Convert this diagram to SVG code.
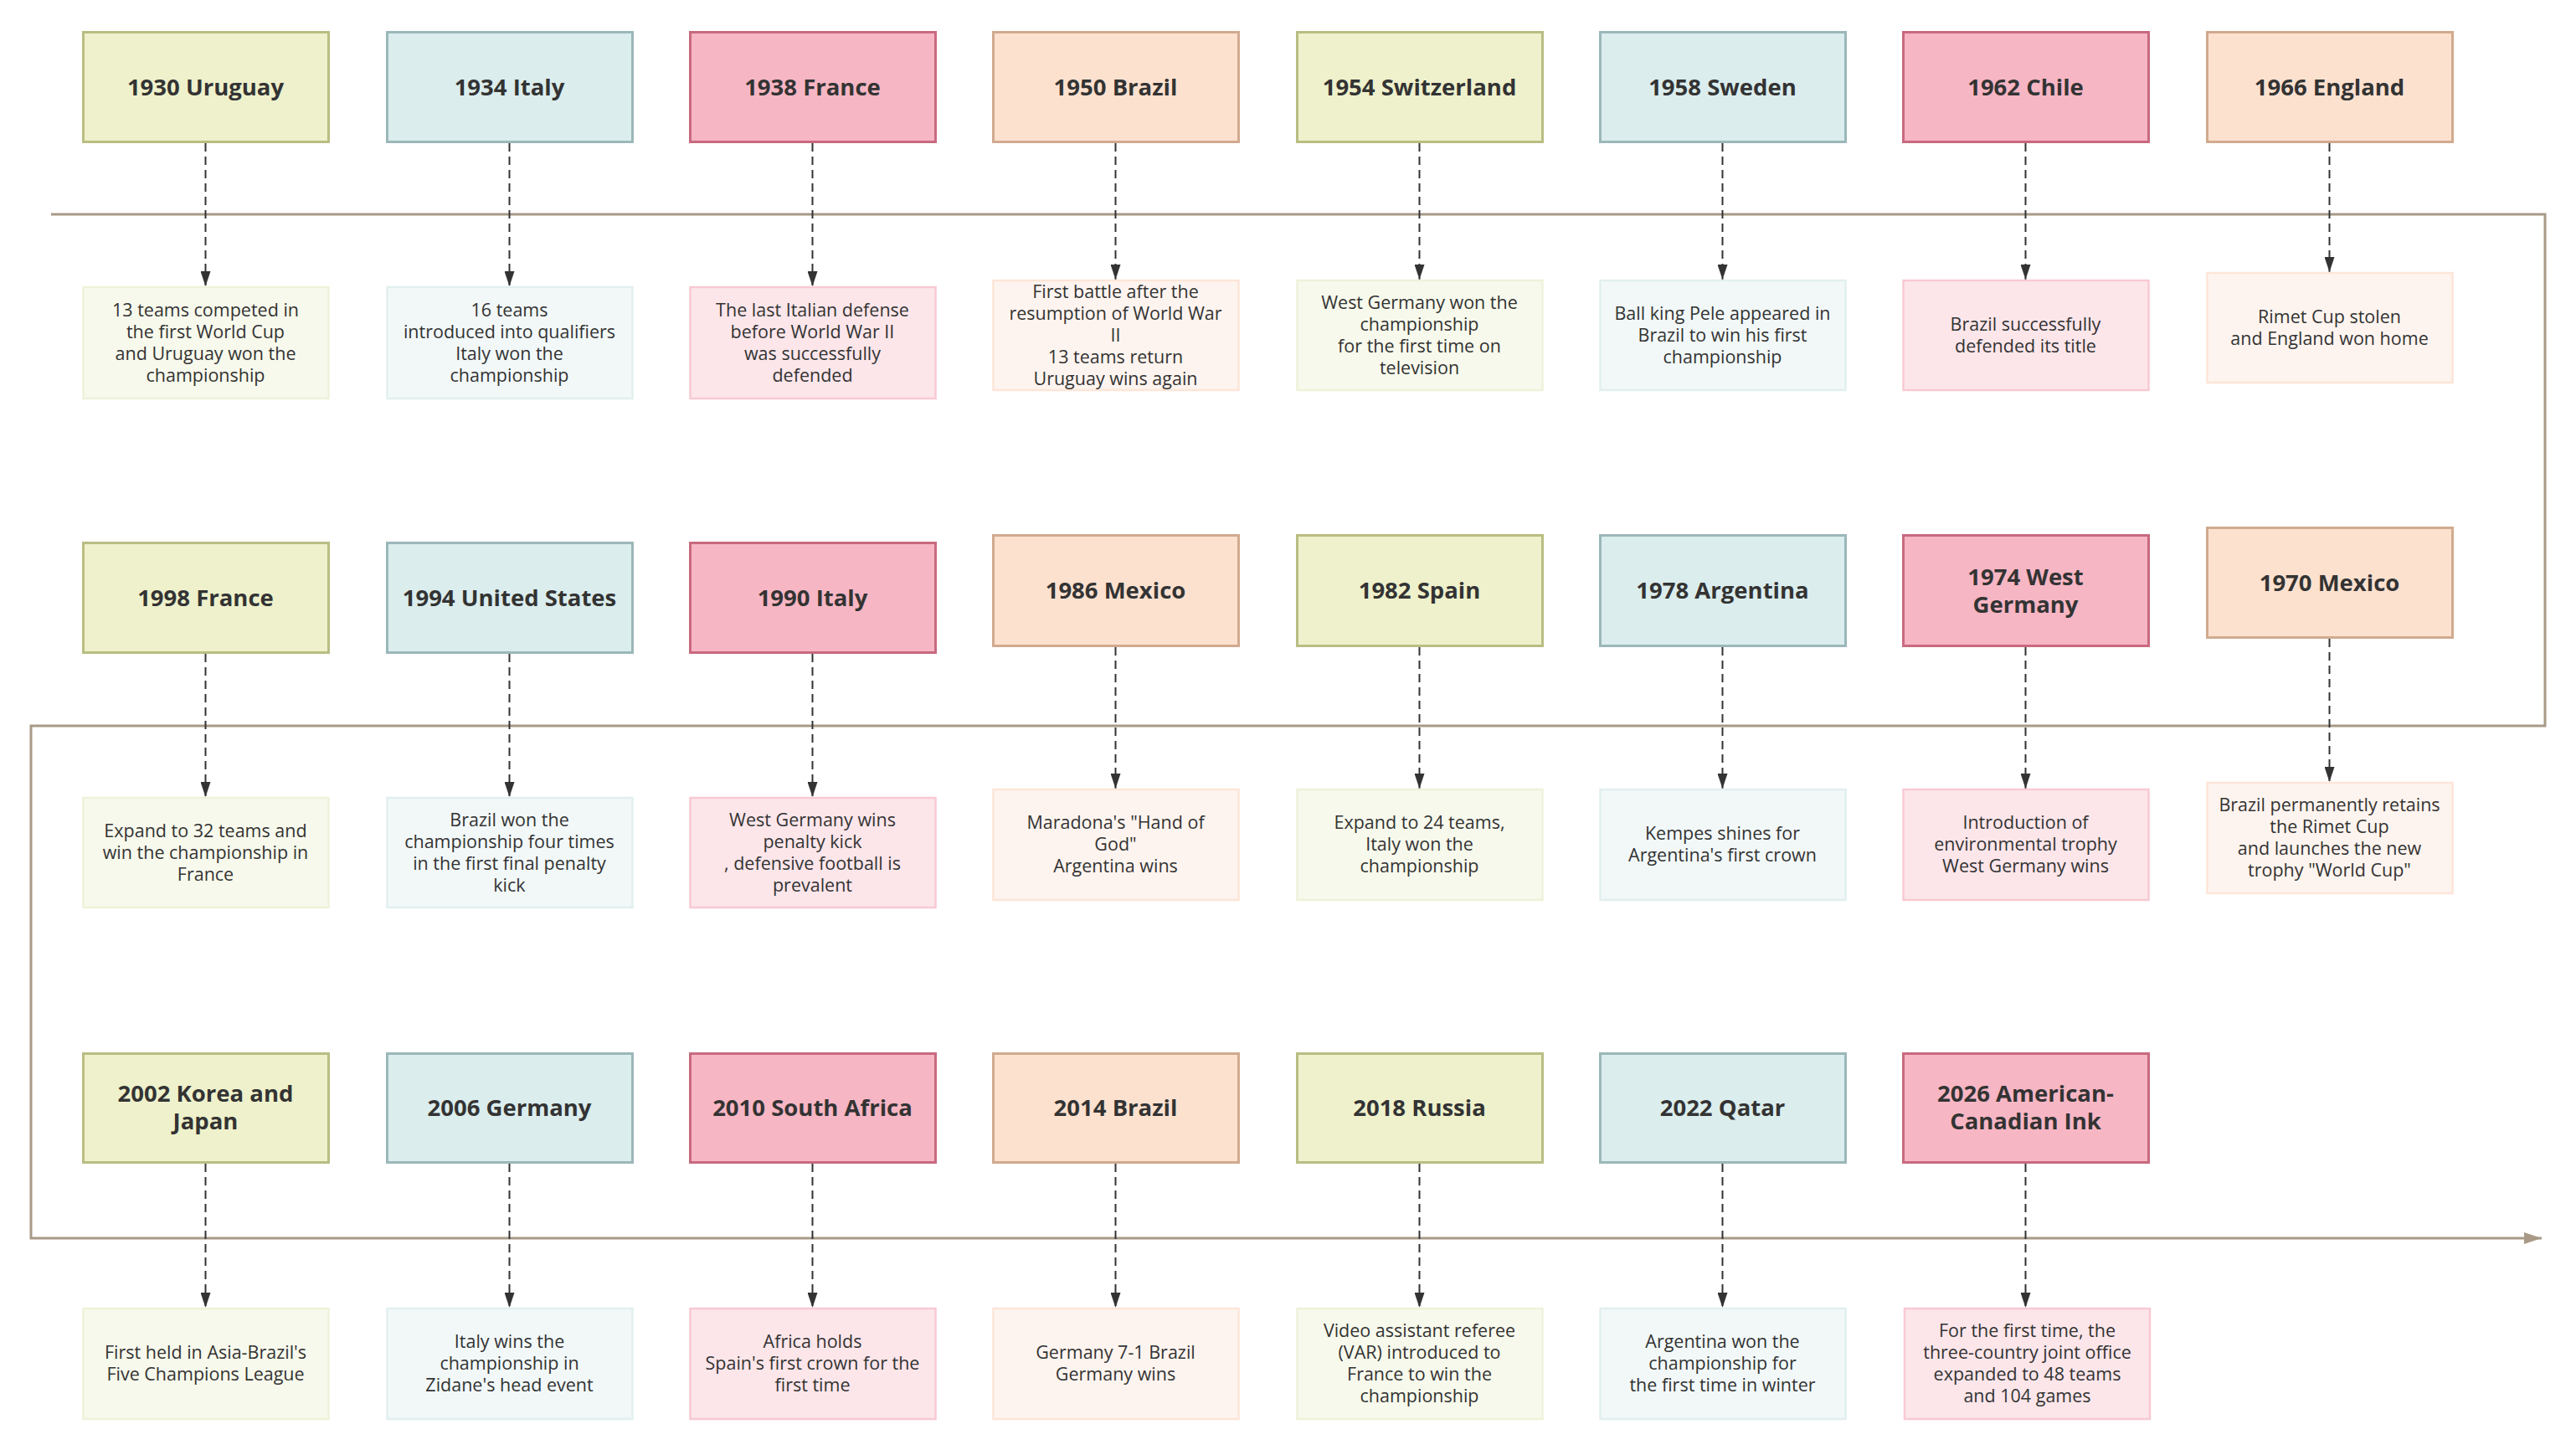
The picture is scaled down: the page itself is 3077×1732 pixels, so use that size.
<svg xmlns="http://www.w3.org/2000/svg" width="3077" height="1732" viewBox="0 0 3077 1732">
<style>
  .tb { stroke-width: 3; }
  .db { stroke-width: 2.5; }
  .g { fill: #eef1cb; stroke: #b9bd82; }
  .b { fill: #dbeded; stroke: #9bb7b9; }
  .p { fill: #f7b6c4; stroke: #c8697f; }
  .o { fill: #fde1cf; stroke: #d1aa8f; }
  .dg { fill: #f7f9ec; stroke: #eff2da; }
  .dbl { fill: #f2f8f8; stroke: #e2efef; }
  .dp { fill: #fce6ea; stroke: #f8c9d3; }
  .do { fill: #fef4ef; stroke: #fde5d8; }
  .tt { font-family: "Open Sans", "Noto Sans", "Liberation Sans", sans-serif; font-weight: bold; font-size: 27.5px; fill: #333333; text-anchor: middle; }
  .dt { font-family: "Open Sans", "Noto Sans", "Liberation Sans", sans-serif; font-size: 21.5px; fill: #333333; text-anchor: middle; }
  .axis { fill: none; stroke: #a89a86; stroke-width: 3; }
  .dash { fill: none; stroke: #333333; stroke-width: 2; stroke-dasharray: 10 6; }
</style>
<defs>
  <marker id="ah" markerUnits="userSpaceOnUse" markerWidth="12" markerHeight="18" refX="6" refY="18" orient="0" viewBox="0 0 12 18">
    <path d="M0,0 L12,0 L6,18 Z" fill="#333333"/>
  </marker>
  <marker id="axh" markerUnits="userSpaceOnUse" markerWidth="22" markerHeight="14" refX="21" refY="7" orient="auto" viewBox="0 0 22 14">
    <path d="M0,0 L21,7 L0,14 Z" fill="#a89a86"/>
  </marker>
</defs>
<rect width="3077" height="1732" fill="#ffffff"/>

<g id="connectors">
  <path class="axis" d="M61,256 H3040 V867 H37 V1479 H3036" marker-end="url(#axh)"/>
  <path class="dash" d="M245.5,171 V342" marker-end="url(#ah)"/>
  <path class="dash" d="M608.5,171 V342" marker-end="url(#ah)"/>
  <path class="dash" d="M970.5,171 V342" marker-end="url(#ah)"/>
  <path class="dash" d="M1332.5,171 V334" marker-end="url(#ah)"/>
  <path class="dash" d="M1695.5,171 V334" marker-end="url(#ah)"/>
  <path class="dash" d="M2057.5,171 V334" marker-end="url(#ah)"/>
  <path class="dash" d="M2419.5,171 V334" marker-end="url(#ah)"/>
  <path class="dash" d="M2782.5,171 V325" marker-end="url(#ah)"/>
  <path class="dash" d="M245.5,781 V952" marker-end="url(#ah)"/>
  <path class="dash" d="M608.5,781 V952" marker-end="url(#ah)"/>
  <path class="dash" d="M970.5,781 V952" marker-end="url(#ah)"/>
  <path class="dash" d="M1332.5,773 V942" marker-end="url(#ah)"/>
  <path class="dash" d="M1695.5,773 V942" marker-end="url(#ah)"/>
  <path class="dash" d="M2057.5,773 V942" marker-end="url(#ah)"/>
  <path class="dash" d="M2419.5,773 V942" marker-end="url(#ah)"/>
  <path class="dash" d="M2782.5,763 V934" marker-end="url(#ah)"/>
  <path class="dash" d="M245.5,1390 V1562" marker-end="url(#ah)"/>
  <path class="dash" d="M608.5,1390 V1562" marker-end="url(#ah)"/>
  <path class="dash" d="M970.5,1390 V1562" marker-end="url(#ah)"/>
  <path class="dash" d="M1332.5,1390 V1562" marker-end="url(#ah)"/>
  <path class="dash" d="M1695.5,1390 V1562" marker-end="url(#ah)"/>
  <path class="dash" d="M2057.5,1390 V1562" marker-end="url(#ah)"/>
  <path class="dash" d="M2419.5,1390 V1562" marker-end="url(#ah)"/>
</g>

<!-- Row 1 -->
<g id="n1930">
  <rect class="tb g" x="99.5" y="38.5" width="293" height="131"/>
  <text class="tt" x="245.5" y="113.5">1930 Uruguay</text>
</g>
<g id="d1930">
  <rect class="db dg" x="99.5" y="343" width="293" height="133"/>
  <text class="dt" x="245.5" y="377.5"><tspan x="245.5">13 teams competed in</tspan><tspan x="245.5" dy="26">the first World Cup</tspan><tspan x="245.5" dy="26">and Uruguay won the</tspan><tspan x="245.5" dy="26">championship</tspan></text>
</g>
<g id="n1934">
  <rect class="tb b" x="462.5" y="38.5" width="293" height="131"/>
  <text class="tt" x="608.5" y="113.5">1934 Italy</text>
</g>
<g id="d1934">
  <rect class="db dbl" x="462.5" y="343" width="293" height="133"/>
  <text class="dt" x="608.5" y="377.5"><tspan x="608.5">16 teams</tspan><tspan x="608.5" dy="26">introduced into qualifiers</tspan><tspan x="608.5" dy="26">Italy won the</tspan><tspan x="608.5" dy="26">championship</tspan></text>
</g>
<g id="n1938">
  <rect class="tb p" x="824.5" y="38.5" width="293" height="131"/>
  <text class="tt" x="970.5" y="113.5">1938 France</text>
</g>
<g id="d1938">
  <rect class="db dp" x="824.5" y="343" width="293" height="133"/>
  <text class="dt" x="970.5" y="377.5"><tspan x="970.5">The last Italian defense</tspan><tspan x="970.5" dy="26">before World War II</tspan><tspan x="970.5" dy="26">was successfully</tspan><tspan x="970.5" dy="26">defended</tspan></text>
</g>
<g id="n1950">
  <rect class="tb o" x="1186.5" y="38.5" width="293" height="131"/>
  <text class="tt" x="1332.5" y="113.5">1950 Brazil</text>
</g>
<g id="d1950">
  <rect class="db do" x="1186.5" y="335" width="293" height="131"/>
  <text class="dt" x="1332.5" y="355.5"><tspan x="1332.5">First battle after the</tspan><tspan x="1332.5" dy="26">resumption of World War</tspan><tspan x="1332.5" dy="26">II</tspan><tspan x="1332.5" dy="26">13 teams return</tspan><tspan x="1332.5" dy="26">Uruguay wins again</tspan></text>
</g>
<g id="n1954">
  <rect class="tb g" x="1549.5" y="38.5" width="293" height="131"/>
  <text class="tt" x="1695.5" y="113.5">1954 Switzerland</text>
</g>
<g id="d1954">
  <rect class="db dg" x="1549.5" y="335" width="293" height="131"/>
  <text class="dt" x="1695.5" y="368.5"><tspan x="1695.5">West Germany won the</tspan><tspan x="1695.5" dy="26">championship</tspan><tspan x="1695.5" dy="26">for the first time on</tspan><tspan x="1695.5" dy="26">television</tspan></text>
</g>
<g id="n1958">
  <rect class="tb b" x="1911.5" y="38.5" width="293" height="131"/>
  <text class="tt" x="2057.5" y="113.5">1958 Sweden</text>
</g>
<g id="d1958">
  <rect class="db dbl" x="1911.5" y="335" width="293" height="131"/>
  <text class="dt" x="2057.5" y="381.5"><tspan x="2057.5">Ball king Pele appeared in</tspan><tspan x="2057.5" dy="26">Brazil to win his first</tspan><tspan x="2057.5" dy="26">championship</tspan></text>
</g>
<g id="n1962">
  <rect class="tb p" x="2273.5" y="38.5" width="293" height="131"/>
  <text class="tt" x="2419.5" y="113.5">1962 Chile</text>
</g>
<g id="d1962">
  <rect class="db dp" x="2273.5" y="335" width="293" height="131"/>
  <text class="dt" x="2419.5" y="394.5"><tspan x="2419.5">Brazil successfully</tspan><tspan x="2419.5" dy="26">defended its title</tspan></text>
</g>
<g id="n1966">
  <rect class="tb o" x="2636.5" y="38.5" width="293" height="131"/>
  <text class="tt" x="2782.5" y="113.5">1966 England</text>
</g>
<g id="d1966">
  <rect class="db do" x="2636.5" y="326" width="293" height="131"/>
  <text class="dt" x="2782.5" y="385.5"><tspan x="2782.5">Rimet Cup stolen</tspan><tspan x="2782.5" dy="26">and England won home</tspan></text>
</g>

<!-- Row 2 -->
<g id="n1998">
  <rect class="tb g" x="99.5" y="648.5" width="293" height="131"/>
  <text class="tt" x="245.5" y="723.5">1998 France</text>
</g>
<g id="d1998">
  <rect class="db dg" x="99.5" y="953" width="293" height="131"/>
  <text class="dt" x="245.5" y="999.5"><tspan x="245.5">Expand to 32 teams and</tspan><tspan x="245.5" dy="26">win the championship in</tspan><tspan x="245.5" dy="26">France</tspan></text>
</g>
<g id="n1994">
  <rect class="tb b" x="462.5" y="648.5" width="293" height="131"/>
  <text class="tt" x="608.5" y="723.5">1994 United States</text>
</g>
<g id="d1994">
  <rect class="db dbl" x="462.5" y="953" width="293" height="131"/>
  <text class="dt" x="608.5" y="986.5"><tspan x="608.5">Brazil won the</tspan><tspan x="608.5" dy="26">championship four times</tspan><tspan x="608.5" dy="26">in the first final penalty</tspan><tspan x="608.5" dy="26">kick</tspan></text>
</g>
<g id="n1990">
  <rect class="tb p" x="824.5" y="648.5" width="293" height="131"/>
  <text class="tt" x="970.5" y="723.5">1990 Italy</text>
</g>
<g id="d1990">
  <rect class="db dp" x="824.5" y="953" width="293" height="131"/>
  <text class="dt" x="970.5" y="986.5"><tspan x="970.5">West Germany wins</tspan><tspan x="970.5" dy="26">penalty kick</tspan><tspan x="970.5" dy="26">, defensive football is</tspan><tspan x="970.5" dy="26">prevalent</tspan></text>
</g>
<g id="n1986">
  <rect class="tb o" x="1186.5" y="639.5" width="293" height="132"/>
  <text class="tt" x="1332.5" y="715">1986 Mexico</text>
</g>
<g id="d1986">
  <rect class="db do" x="1186.5" y="943" width="293" height="132"/>
  <text class="dt" x="1332.5" y="990"><tspan x="1332.5">Maradona's "Hand of</tspan><tspan x="1332.5" dy="26">God"</tspan><tspan x="1332.5" dy="26">Argentina wins</tspan></text>
</g>
<g id="n1982">
  <rect class="tb g" x="1549.5" y="639.5" width="293" height="132"/>
  <text class="tt" x="1695.5" y="715">1982 Spain</text>
</g>
<g id="d1982">
  <rect class="db dg" x="1549.5" y="943" width="293" height="132"/>
  <text class="dt" x="1695.5" y="990"><tspan x="1695.5">Expand to 24 teams,</tspan><tspan x="1695.5" dy="26">Italy won the</tspan><tspan x="1695.5" dy="26">championship</tspan></text>
</g>
<g id="n1978">
  <rect class="tb b" x="1911.5" y="639.5" width="293" height="132"/>
  <text class="tt" x="2057.5" y="715">1978 Argentina</text>
</g>
<g id="d1978">
  <rect class="db dbl" x="1911.5" y="943" width="293" height="132"/>
  <text class="dt" x="2057.5" y="1003"><tspan x="2057.5">Kempes shines for</tspan><tspan x="2057.5" dy="26">Argentina's first crown</tspan></text>
</g>
<g id="n1974">
  <rect class="tb p" x="2273.5" y="639.5" width="293" height="132"/>
  <text class="tt" x="2419.5" y="698.5"><tspan x="2419.5">1974 West</tspan><tspan x="2419.5" dy="33">Germany</tspan></text>
</g>
<g id="d1974">
  <rect class="db dp" x="2273.5" y="943" width="293" height="132"/>
  <text class="dt" x="2419.5" y="990"><tspan x="2419.5">Introduction of</tspan><tspan x="2419.5" dy="26">environmental trophy</tspan><tspan x="2419.5" dy="26">West Germany wins</tspan></text>
</g>
<g id="n1970">
  <rect class="tb o" x="2636.5" y="630.5" width="293" height="131"/>
  <text class="tt" x="2782.5" y="705.5">1970 Mexico</text>
</g>
<g id="d1970">
  <rect class="db do" x="2636.5" y="935" width="293" height="132"/>
  <text class="dt" x="2782.5" y="969"><tspan x="2782.5">Brazil permanently retains</tspan><tspan x="2782.5" dy="26">the Rimet Cup</tspan><tspan x="2782.5" dy="26">and launches the new</tspan><tspan x="2782.5" dy="26">trophy "World Cup"</tspan></text>
</g>

<!-- Row 3 -->
<g id="n2002">
  <rect class="tb g" x="99.5" y="1258.5" width="293" height="130"/>
  <text class="tt" x="245.5" y="1316"><tspan x="245.5">2002 Korea and</tspan><tspan x="245.5" dy="33">Japan</tspan></text>
</g>
<g id="d2002">
  <rect class="db dg" x="99.5" y="1563" width="293" height="132"/>
  <text class="dt" x="245.5" y="1623"><tspan x="245.5">First held in Asia-Brazil's</tspan><tspan x="245.5" dy="26">Five Champions League</tspan></text>
</g>
<g id="n2006">
  <rect class="tb b" x="462.5" y="1258.5" width="293" height="130"/>
  <text class="tt" x="608.5" y="1333">2006 Germany</text>
</g>
<g id="d2006">
  <rect class="db dbl" x="462.5" y="1563" width="293" height="132"/>
  <text class="dt" x="608.5" y="1610"><tspan x="608.5">Italy wins the</tspan><tspan x="608.5" dy="26">championship in</tspan><tspan x="608.5" dy="26">Zidane's head event</tspan></text>
</g>
<g id="n2010">
  <rect class="tb p" x="824.5" y="1258.5" width="293" height="130"/>
  <text class="tt" x="970.5" y="1333">2010 South Africa</text>
</g>
<g id="d2010">
  <rect class="db dp" x="824.5" y="1563" width="293" height="132"/>
  <text class="dt" x="970.5" y="1610"><tspan x="970.5">Africa holds</tspan><tspan x="970.5" dy="26">Spain's first crown for the</tspan><tspan x="970.5" dy="26">first time</tspan></text>
</g>
<g id="n2014">
  <rect class="tb o" x="1186.5" y="1258.5" width="293" height="130"/>
  <text class="tt" x="1332.5" y="1333">2014 Brazil</text>
</g>
<g id="d2014">
  <rect class="db do" x="1186.5" y="1563" width="293" height="132"/>
  <text class="dt" x="1332.5" y="1623"><tspan x="1332.5">Germany 7-1 Brazil</tspan><tspan x="1332.5" dy="26">Germany wins</tspan></text>
</g>
<g id="n2018">
  <rect class="tb g" x="1549.5" y="1258.5" width="293" height="130"/>
  <text class="tt" x="1695.5" y="1333">2018 Russia</text>
</g>
<g id="d2018">
  <rect class="db dg" x="1549.5" y="1563" width="293" height="132"/>
  <text class="dt" x="1695.5" y="1597"><tspan x="1695.5">Video assistant referee</tspan><tspan x="1695.5" dy="26">(VAR) introduced to</tspan><tspan x="1695.5" dy="26">France to win the</tspan><tspan x="1695.5" dy="26">championship</tspan></text>
</g>
<g id="n2022">
  <rect class="tb b" x="1911.5" y="1258.5" width="293" height="130"/>
  <text class="tt" x="2057.5" y="1333">2022 Qatar</text>
</g>
<g id="d2022">
  <rect class="db dbl" x="1911.5" y="1563" width="293" height="132"/>
  <text class="dt" x="2057.5" y="1610"><tspan x="2057.5">Argentina won the</tspan><tspan x="2057.5" dy="26">championship for</tspan><tspan x="2057.5" dy="26">the first time in winter</tspan></text>
</g>
<g id="n2026">
  <rect class="tb p" x="2273.5" y="1258.5" width="293" height="130"/>
  <text class="tt" x="2419.5" y="1316"><tspan x="2419.5">2026 American-</tspan><tspan x="2419.5" dy="33">Canadian Ink</tspan></text>
</g>
<g id="d2026">
  <rect class="db dp" x="2275" y="1563" width="293" height="132"/>
  <text class="dt" x="2421.5" y="1597"><tspan x="2421.5">For the first time, the</tspan><tspan x="2421.5" dy="26">three-country joint office</tspan><tspan x="2421.5" dy="26">expanded to 48 teams</tspan><tspan x="2421.5" dy="26">and 104 games</tspan></text>
</g>
</svg>
